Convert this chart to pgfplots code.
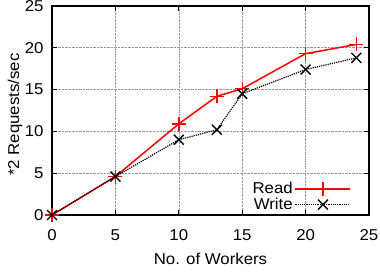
\documentclass[border=0pt]{standalone}
\usepackage{pgfplots}
\pgfplotsset{compat=1.18}
\usepackage{fontspec}
\setmainfont[FakeStretch=1.07]{Liberation Sans}
\newfontfamily\serifx[FakeStretch=1.07]{Liberation Serif}
\begin{document}
\fontsize{15.7pt}{19pt}\selectfont
\begin{tikzpicture}[x=1pt,y=1pt]
\useasboundingbox (0,0) rectangle (380,273);
\begin{axis}[
  at={(52pt,58pt)}, anchor=south west,
  scale only axis, width=317pt, height=209pt,
  xmin=0, xmax=25, ymin=0, ymax=25,
  xtick={0,5,10,15,20,25}, ytick={0,5,10,15,20,25},
  tick align=inside, tick pos=both,
  major tick length=5pt,
  grid=major, grid style={densely dotted, gray!80, line width=0.6pt},
  axis line style={line width=1.2pt},
  every tick/.style={black, line width=0.8pt},
  /pgf/number format/assume math mode=true,
  ticklabel style={font=\fontsize{15.7pt}{19pt}\selectfont},
  xticklabel style={yshift=-9pt},
  yticklabel style={xshift=-3pt},
  label style={font=\fontsize{15.7pt}{19pt}\selectfont},
  xlabel={No. of Workers},
  ylabel={*2 Requests/sec},
  xlabel style={at={(axis description cs:0.5,-0.2105)}, anchor=center},
  ylabel style={at={(axis description cs:-0.1167,0.48)}, anchor=center},
  legend style={draw=none, fill=none, at={(axis cs:23.85,4.45)}, anchor=north east,
    font=\fontsize{15.7pt}{19pt}\selectfont, row sep=-2pt,
    /tikz/every even column/.append style={column sep=7pt}},
  legend cell align=right,
  legend plot pos=right,
  legend image code/.code={\draw[mark repeat=2,mark phase=2] plot coordinates {(0pt,0pt) (27.5pt,0pt) (55pt,0pt)};},
]
\addplot[red, line width=1.5pt, mark=+, mark size=7pt, mark options={solid, line width=1.4pt}]
  coordinates {(0,0) (5,4.6) (10,10.9) (13,14.2) (15,15.1) (20,19.3) (24,20.4)};
\addlegendentry{Read}
\addplot[black, line width=1.2pt, densely dotted, mark=x, mark size=7pt, mark options={solid, line width=1.4pt}]
  coordinates {(0,0) (5,4.6) (10,9.0) (13,10.2) (15,14.5) (20,17.4) (24,18.8)};
\addlegendentry{Write}
\end{axis}
\node[anchor=base west, inner sep=0pt, font=\serifx\fontsize{28pt}{30pt}\selectfont] at (7,-20) {Figure 5};
\end{tikzpicture}
\end{document}
